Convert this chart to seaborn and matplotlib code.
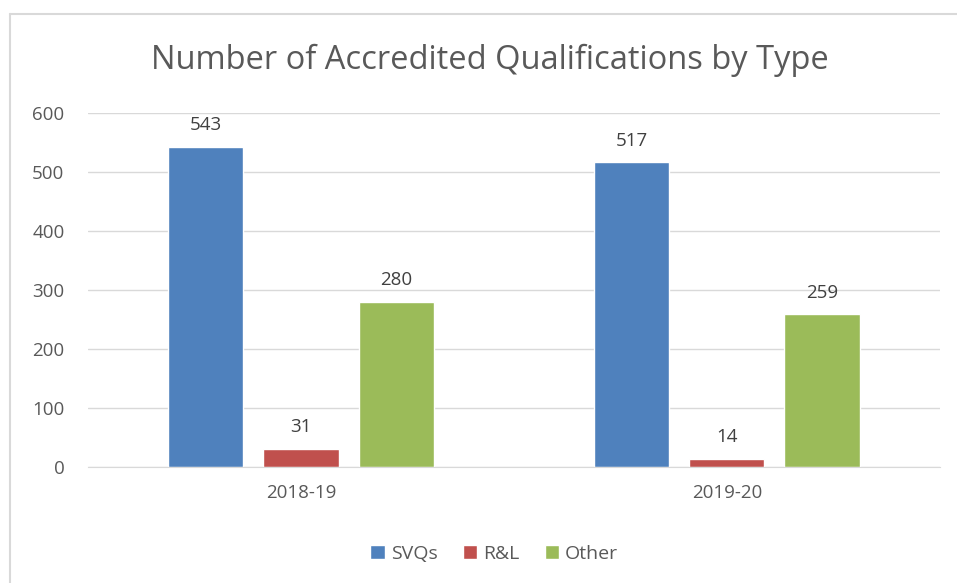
import matplotlib
matplotlib.use("Agg")
import matplotlib.pyplot as plt
import seaborn as sns
import pandas as pd
from matplotlib.lines import Line2D

years = ["2018-19", "2019-20"]
types = ["SVQs", "R&L", "Other"]
svqs = [543, 517]
rl = [31, 14]
other = [280, 259]
colors = ["#4F81BD", "#C0504D", "#9BBB59"]

rows = []
for i, y in enumerate(years):
    for t, vals in zip(types, [svqs, rl, other]):
        rows.append({"year": y, "type": t, "count": vals[i]})
df = pd.DataFrame(rows)

sns.set_style("white")
plt.rcParams['font.family'] = ['Open Sans', 'DejaVu Sans']
txt = "#595959"

fig = plt.figure(figsize=(9.57, 5.83), dpi=100)
ax = fig.add_axes([0.092, 0.199, 0.890, 0.607])

sns.barplot(data=df, x="year", y="count", hue="type", palette=colors,
            width=0.67, gap=0.21, saturation=1, ax=ax, legend=True)

for c in ax.containers:
    ax.bar_label(c, padding=9, fontsize=13.5, color="#404040")

ax.set_ylim(0, 600)
ax.set_xlim(-0.5, 1.5)
ax.set_yticks(range(0, 601, 100))
ax.yaxis.grid(True, color="#D9D9D9", linewidth=1)
ax.set_axisbelow(True)
for s in ["top", "right", "left"]:
    ax.spines[s].set_visible(False)
ax.spines["bottom"].set_color("#D9D9D9")
ax.tick_params(axis="y", length=0, labelsize=13.5, colors=txt, pad=17)
ax.tick_params(axis="x", length=0, labelsize=13.5, colors=txt, pad=12)
ax.set_xlabel("")
ax.set_ylabel("")

ax.legend(loc="upper center", bbox_to_anchor=(0.477, -0.17), ncol=3, frameon=False,
          fontsize=14, handlelength=0.75, handleheight=0.75, columnspacing=1.3,
          handletextpad=0.3, labelcolor=txt)

fig.text(0.512, 0.897, "Number of Accredited Qualifications by Type", ha="center",
         va="center", fontsize=23.5, color=txt)

# chart frame: only left and top edges fall inside the picture
x0, y0 = 10 / 957, 1 - 14 / 583
fig.lines.append(Line2D([x0, x0], [0, y0], transform=fig.transFigure,
                        color="#D9D9D9", linewidth=1.5))
fig.lines.append(Line2D([x0, 1], [y0, y0], transform=fig.transFigure,
                        color="#D9D9D9", linewidth=1.5))

fig.savefig("out.png", dpi=100)
